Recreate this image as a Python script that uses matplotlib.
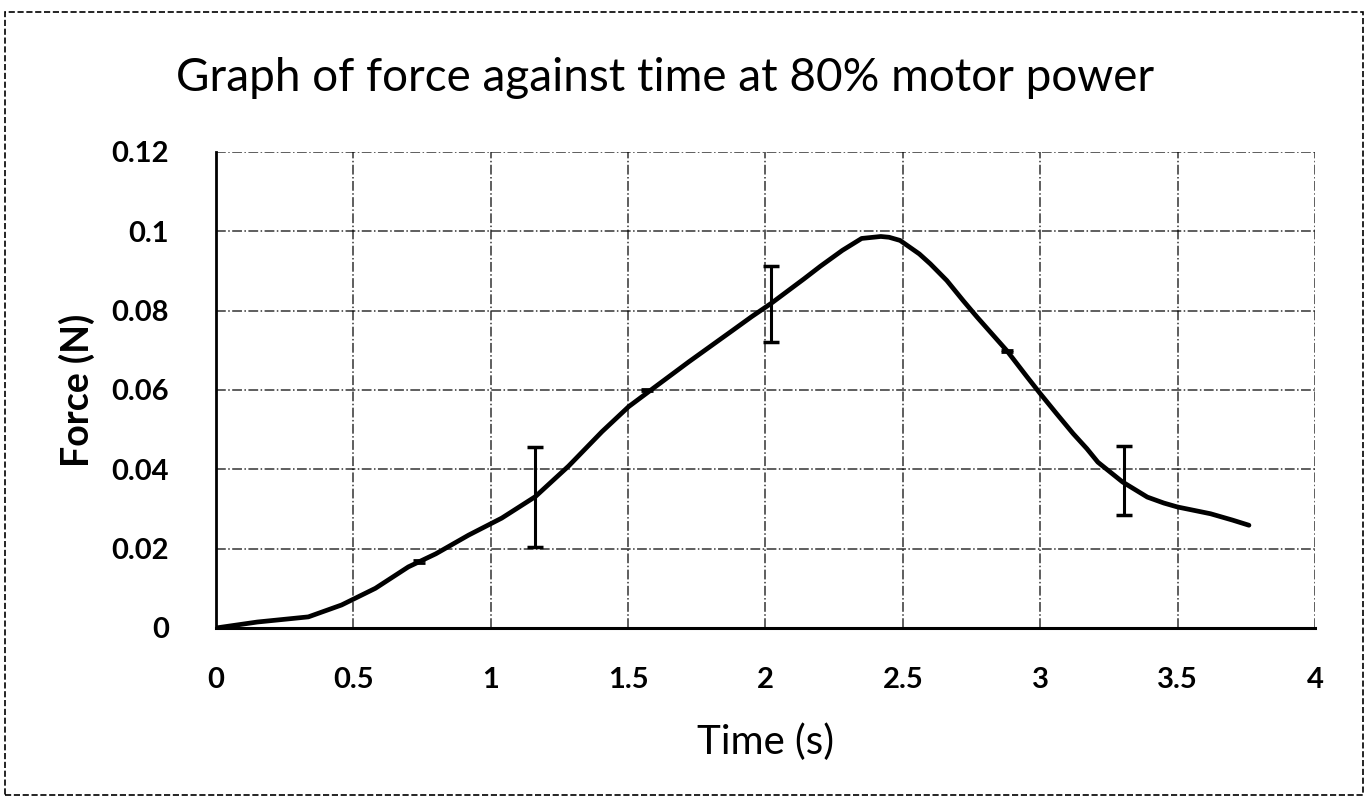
import matplotlib.pyplot as plt
from matplotlib.patches import Rectangle

# curve
time_s = [0.0, 0.15, 0.336, 0.457, 0.58, 0.70, 0.8, 0.919, 1.04, 1.162, 1.283, 1.405,
          1.502, 1.587, 1.721, 1.88, 1.95, 2.02, 2.14, 2.2, 2.28, 2.35, 2.42, 2.45,
          2.49, 2.56, 2.6, 2.66, 2.72, 2.77, 2.88, 2.95, 3.0, 3.06, 3.12, 3.17, 3.21,
          3.3, 3.39, 3.45, 3.5, 3.62, 3.7, 3.76]
force_n = [0.0, 0.0015, 0.0028, 0.0058, 0.010, 0.0154, 0.0187, 0.0234, 0.0277, 0.0331,
           0.0408, 0.0495, 0.0558, 0.0602, 0.0671, 0.075, 0.0785, 0.0818, 0.088, 0.0912,
           0.0952, 0.0982, 0.0987, 0.0985, 0.0977, 0.0943, 0.0918, 0.0876, 0.0825, 0.0784,
           0.0698, 0.0635, 0.0591, 0.054, 0.049, 0.0452, 0.0418, 0.0368, 0.033, 0.0315,
           0.0305, 0.0288, 0.0272, 0.0259]

# error bars (big ones and the tiny ones)
err_t = [1.162, 2.02, 3.305]
err_f = [0.0329, 0.0817, 0.0372]
err_size = [0.0126, 0.0096, 0.0086]
small_err_t = [0.74, 1.57, 2.88]
small_err_f = [0.0168, 0.0600, 0.0698]
small_err_size = [0.0003, 0.0003, 0.0003]

x_ticks = [0, 0.5, 1, 1.5, 2, 2.5, 3, 3.5, 4]
x_tick_labels = ["0", "0.5", "1", "1.5", "2", "2.5", "3", "3.5", "4"]
y_ticks = [0, 0.02, 0.04, 0.06, 0.08, 0.1, 0.12]
y_tick_labels = ["0", "0.02", "0.04", "0.06", "0.08", "0.1", "0.12"]

plt.rcParams['font.family'] = ['Lato', 'DejaVu Sans']

fig = plt.figure(figsize=(13.64, 8.05), dpi=100)
ax = fig.add_axes([0.1584, 0.2199, 0.8056, 0.5913])

ax.plot(time_s, force_n, color='black', linewidth=3.4,
        solid_capstyle='round', solid_joinstyle='round')
ax.errorbar(err_t, err_f, yerr=err_size, fmt='none', ecolor='black',
            elinewidth=2.2, capsize=5.5, capthick=2.5)
ax.errorbar(small_err_t, small_err_f, yerr=small_err_size, fmt='none', ecolor='black',
            elinewidth=2, capsize=4, capthick=2)

ax.set_xlim(0, 4)
ax.set_ylim(0, 0.12)
ax.set_xticks(x_ticks)
ax.set_xticklabels(x_tick_labels, fontsize=21, fontweight='bold')
ax.set_yticks(y_ticks)
ax.set_yticklabels(y_tick_labels, fontsize=21, fontweight='bold')
ax.tick_params(axis='x', length=0, pad=28)
ax.tick_params(axis='y', length=0, pad=34)

ax.grid(True, color='black', linestyle='-.', linewidth=1.1, alpha=0.8)
for s in ['top', 'right']:
    ax.spines[s].set_visible(False)
ax.spines['left'].set_linewidth(2)
ax.spines['bottom'].set_linewidth(2.2)

ax.set_xlabel('Time (s)', fontsize=29, labelpad=22)
ax.set_ylabel('Force (N)', fontsize=27, fontweight='bold', labelpad=12)

fig.text(0.4875, 0.903, 'Graph of force against time at 80% motor power',
         fontsize=33, ha='center', va='center')

# dashed scan border
fig.patches.append(Rectangle((0.004, 0.013), 0.995, 0.972, transform=fig.transFigure,
                             fill=False, edgecolor='black', linestyle='--', linewidth=1.2))

fig.savefig('out.png', dpi=100)
